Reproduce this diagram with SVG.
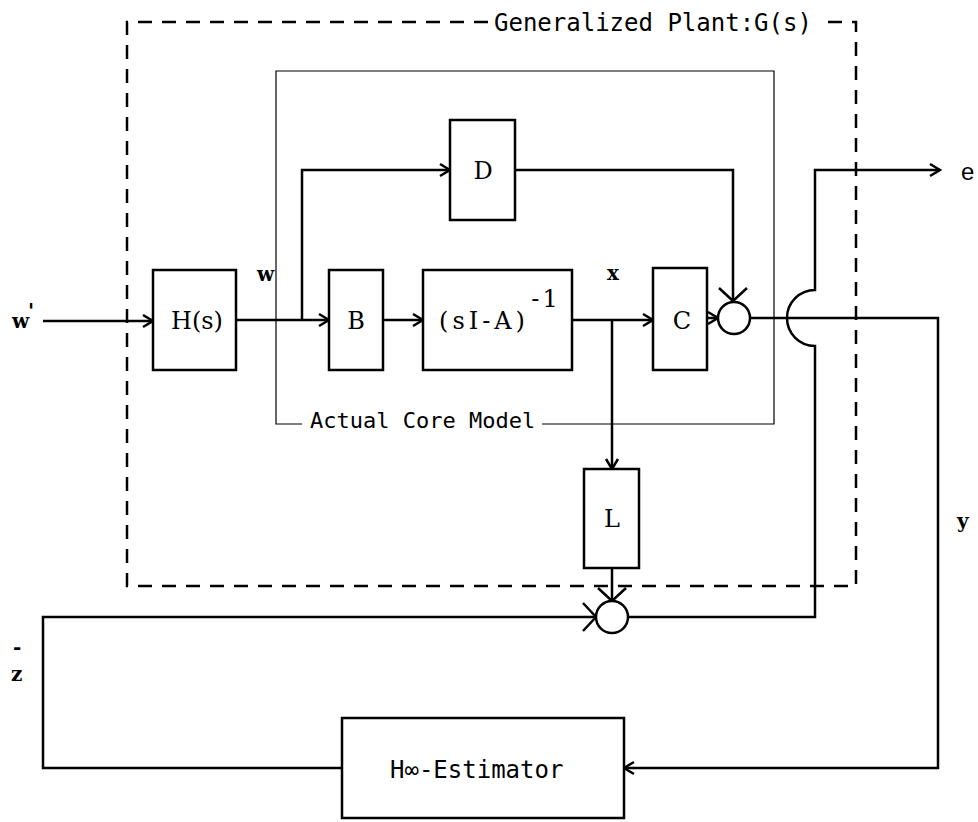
<svg xmlns="http://www.w3.org/2000/svg" width="978" height="822" viewBox="0 0 978 822">
<style>
.w{stroke:#000;stroke-width:2.5;fill:none;stroke-linejoin:miter}
.thin{stroke:#000;stroke-width:1.2;fill:none}
.dash{stroke:#000;stroke-width:2.5;fill:none;stroke-dasharray:14 10}
.box{stroke:#000;stroke-width:2.5;fill:#fff}
.lbl{font-family:"DejaVu Serif","Liberation Serif",serif;font-size:24px;fill:#000;text-anchor:middle}
.goth{font-family:"DejaVu Sans Mono","Liberation Mono",monospace;fill:#000}
.sig{font-family:"DejaVu Serif","Liberation Serif",serif;font-weight:bold;font-size:20px;fill:#000}
.sans{font-family:"Liberation Sans",Arial,sans-serif;font-size:24px;fill:#000}
</style>
<defs>
<marker id="a" markerUnits="userSpaceOnUse" markerWidth="14" markerHeight="16" viewBox="-12 -8 14 16" refX="0" refY="0" orient="auto">
<path d="M-10,-6 L0,0 L-10,6" stroke="#000" stroke-width="2.5" fill="none"/>
</marker>
<marker id="b" markerUnits="userSpaceOnUse" markerWidth="18" markerHeight="34" viewBox="-16 -17 18 34" refX="0" refY="0" orient="auto">
<path d="M-13,-14 L0,0 L-13,14" stroke="#000" stroke-width="2.5" fill="none"/>
</marker>
</defs>

<g id="plant-frame">
<path class="dash" d="M488,22 H127 V586 H856 V22 H823"/>
<text class="goth" x="494" y="31" font-size="24">Generalized Plant:G(s)</text>
</g>

<g id="core-frame">
<path class="thin" d="M302,424 H276 V71 H774 V424 H542"/>
<text class="goth" x="310" y="428" font-size="22">Actual Core Model</text>
</g>

<g id="connectors">
<path class="w" d="M43,321 H153" marker-end="url(#a)"/>
<path class="w" d="M236,320 H329" marker-end="url(#a)"/>
<path class="w" d="M302,320 V170 H450" marker-end="url(#a)"/>
<path class="w" d="M383,320 H423" marker-end="url(#a)"/>
<path class="w" d="M572,320 H653" marker-end="url(#a)"/>
<path class="w" d="M612,320 V469" marker-end="url(#a)"/>
<path class="w" d="M707,318 H718" marker-end="url(#a)"/>
<path class="w" d="M515,170 H733 V301" marker-end="url(#b)"/>
<path class="w" d="M750,318 H938 V768 H624" marker-end="url(#a)"/>
<path class="w" d="M628,617 H815 V346 A28,28 0 0 1 815,290 V170 H940" marker-end="url(#a)"/>
<path class="w" d="M342,768 H43 V617 H596" marker-end="url(#b)"/>
<path class="w" d="M612,568 V601" marker-end="url(#b)"/>
</g>

<g id="Hs">
<rect class="box" x="153" y="270" width="83" height="100"/>
<text class="lbl" x="197" y="329">H(s)</text>
</g>
<g id="B">
<rect class="box" x="329" y="270" width="54" height="100"/>
<text class="lbl" x="356" y="329">B</text>
</g>
<g id="resolvent">
<rect class="box" x="423" y="270" width="149" height="100"/>
<text class="lbl" x="484" y="329" letter-spacing="4">(sI-A)</text>
<text class="lbl" x="546" y="307" font-size="16" letter-spacing="3">-1</text>
</g>
<g id="C">
<rect class="box" x="653" y="268" width="54" height="102"/>
<text class="lbl" x="682" y="329">C</text>
</g>
<g id="D">
<rect class="box" x="450" y="120" width="65" height="100"/>
<text class="lbl" x="483" y="179">D</text>
</g>
<g id="L">
<rect class="box" x="584" y="469" width="55" height="99"/>
<text class="lbl" x="612" y="527">L</text>
</g>
<g id="sum1">
<circle class="box" cx="734" cy="318" r="16"/>
</g>
<g id="sum2">
<circle class="box" cx="612" cy="617" r="16"/>
</g>
<g id="estimator">
<rect class="box" x="342" y="718" width="282" height="100"/>
<text class="goth" x="390" y="778" font-size="24">H∞-Estimator</text>
</g>

<g id="labels">
<text class="sig" x="12" y="328">w</text>
<text class="sig" x="28" y="318" font-size="14">'</text>
<text class="sig" x="257" y="281">w</text>
<text class="sig" x="607" y="280">x</text>
<text class="sans" x="961" y="180">e</text>
<text class="sig" x="957" y="528">y</text>
<text class="sig" x="11" y="681">z</text>
<text class="sig" x="13" y="654" font-size="10">-</text>
</g>
</svg>
